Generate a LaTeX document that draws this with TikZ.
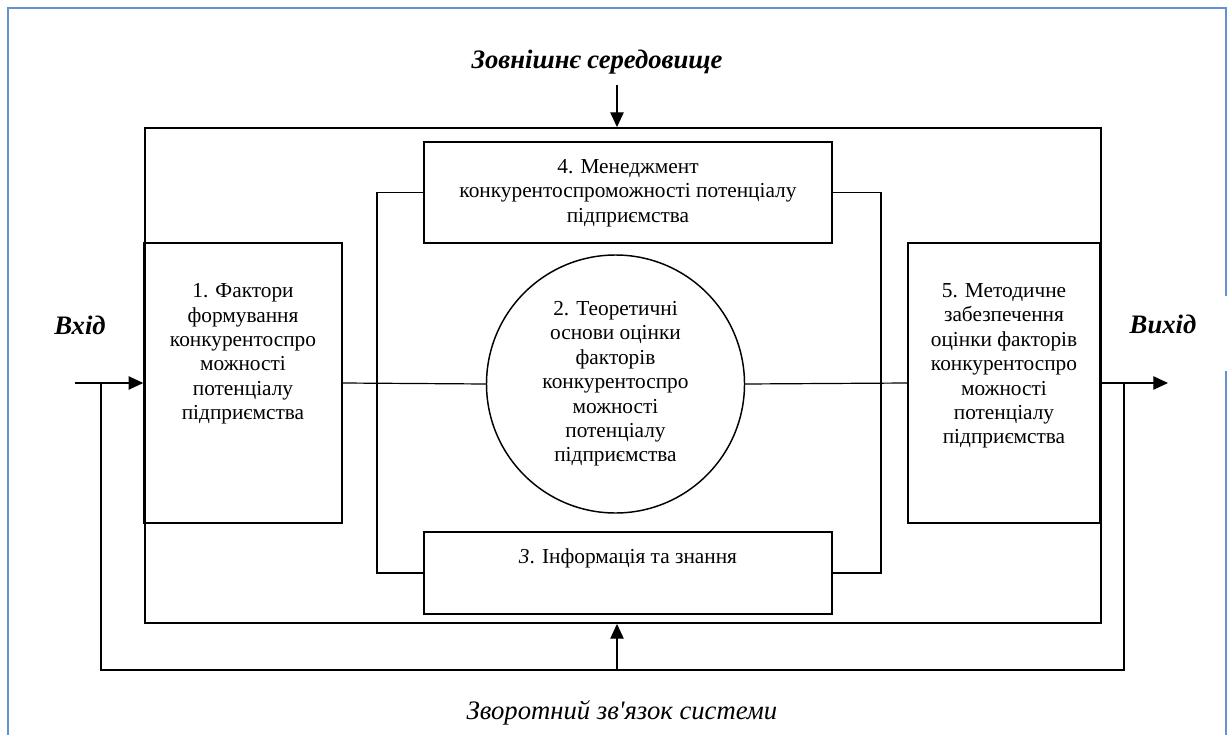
\documentclass[tikz,border=0pt]{standalone}
\usepackage{fontspec}
\setmainfont{Liberation Serif}
\usetikzlibrary{arrows.meta}
\definecolor{pageblue}{RGB}{100,145,210}
\begin{document}
\begin{tikzpicture}[x=0.75pt,y=-0.75pt,
  box/.style={draw,line width=1.1pt,rectangle,inner sep=0pt},
  conn/.style={line width=0.9pt},
  arr/.style={line width=0.9pt,-{Triangle[length=11pt,width=10pt]}},
  txt/.style={align=center,font=\fontsize{16pt}{18.3pt}\selectfont,inner sep=0pt},
  lbl/.style={inner sep=0pt,font=\fontsize{20pt}{24pt}\selectfont\bfseries\itshape},
  ]
\useasboundingbox (0,0) rectangle (1228,735);
% page frame
\draw[pageblue,line width=1.5pt] (8,735) -- (8,8) -- (1226,8) -- (1226,296);
\draw[pageblue,line width=1.5pt] (1226,371) -- (1226,735);

% system boundary
\node[box,line width=1.4pt,minimum width=717pt,minimum height=371.25pt] (sys) at (623,375.5) {};

% blocks
\node[box,minimum width=148.5pt,minimum height=210pt] (b1) at (243,383) {};
\node[txt] (t1) at (243,354) {1. Фактори\\формування\\конкурентоспро\\можності\\потенціалу\\підприємства};

\node[box,minimum width=144pt,minimum height=210pt] (b5) at (1004,383) {};
\node[txt] (t5) at (1004,366) {5. Методичне\\забезпечення\\оцінки факторів\\конкурентоспро\\можності\\потенціалу\\підприємства};

\node[box,minimum width=306pt,minimum height=75.75pt] (b4) at (628,192.5) {};
\node[txt] (t4) at (628,193) {4. Менеджмент\\конкурентоспроможності потенціалу\\підприємства};

\node[box,minimum width=306pt,minimum height=61.5pt] (b3) at (628,573) {};
\node[txt] (t3) at (628,558) {\textit{3}. Інформація та знання};

\node[circle,draw,line width=1.1pt,minimum size=193.5pt,inner sep=0pt,txt] (c2) at (615.5,384)
  {2. Теоретичні\\основи оцінки\\факторів\\конкурентоспро\\можності\\потенціалу\\підприємства};

% inner loop between 4 and 3
\coordinate (cl) at (377,383);
\coordinate (cr) at (881,383);
\draw[conn] (b4.west) -| (cl) |- (b3.west);
\draw[conn] (b4.east) -| (cr) |- (b3.east);

% links through the circle
\draw[conn] (b1.east) -- (c2.west);
\draw[conn] (c2.east) -- (b5.west);

% input / output
\coordinate (inp) at (75,383);
\coordinate (outp) at (1168,383);
\draw[arr] (inp) -- (b1.west);
\draw[arr] (b5.east) -- (outp);

% environment
\node[lbl] (env) at (597,62) {Зовнішнє середовище};
\coordinate (ea) at (617,85);
\draw[arr] (ea) -- (ea |- sys.north);

% feedback
\coordinate (fl) at (101,383);
\coordinate (fr) at (1124,383);
\coordinate (fb) at (617,670);
\draw[conn] (fl) -- (fl |- fb) -- (fr |- fb) -- (fr);
\draw[arr] (fb) -- (fb |- sys.south);

\node[lbl] (inl) at (80,325) {Вхід};
\node[lbl] (outl) at (1163,324) {Вихід};
\node[inner sep=0pt,font=\fontsize{20pt}{24pt}\selectfont\itshape] (fbl) at (622,713) {Зворотний зв\textquotesingle язок системи};
\end{tikzpicture}
\end{document}
